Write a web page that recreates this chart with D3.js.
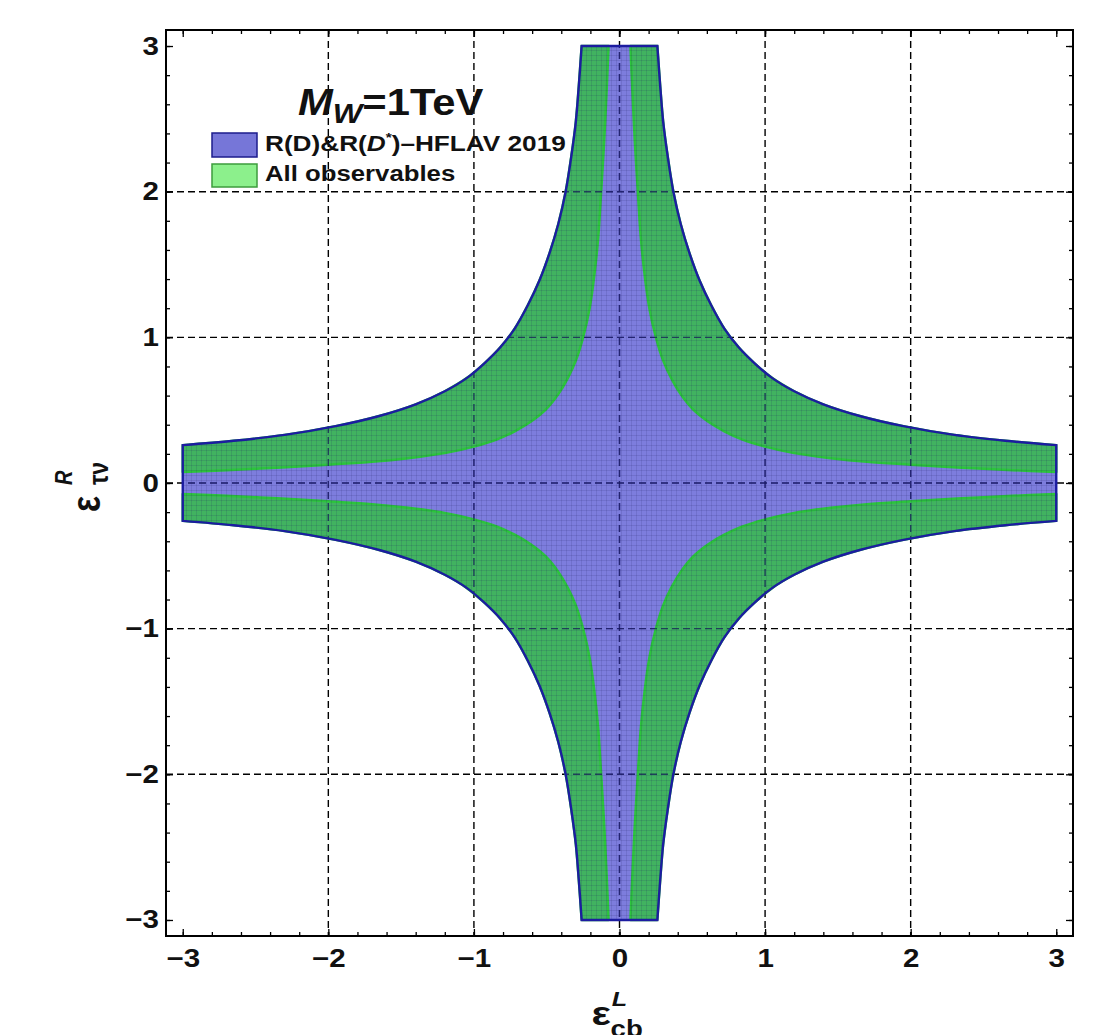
<!DOCTYPE html>
<html>
<head>
<meta charset="utf-8">
<script src="https://cdn.jsdelivr.net/npm/d3@7"></script>
<style>
  body { margin: 0; background: #fff; }
  text { font-family: "Liberation Sans", Arial, sans-serif; font-weight: bold; fill: #111; }
</style>
</head>
<body>
<div id="main-chart"></div>
<script>
// Allowed region in the (eps_cb^L, eps_tau_nu^R) plane, M_W = 1 TeV

// Tick and grid values
var majorTicks = [-3, -2, -1, 0, 1, 2, 3];
var minorTicks = [-3, -2.8, -2.6, -2.4, -2.2, -2, -1.8, -1.6, -1.4, -1.2, -1, -0.8, -0.6, -0.4, -0.2, 0,
  0.2, 0.4, 0.6, 0.8, 1, 1.2, 1.4, 1.6, 1.8, 2, 2.2, 2.4, 2.6, 2.8, 3];
var gridValues = [-2, -1, 0, 1, 2];

// Outer edge of the R(D)&R(D*) region, first quadrant
var outerX = [0.26, 0.28, 0.30, 0.33, 0.37, 0.42, 0.48, 0.55, 0.63, 0.72, 0.82, 0.93, 1.05, 1.2, 1.4, 1.65, 1.95, 2.3, 2.65, 3.0];
var outerY = [3.0, 2.72, 2.48, 2.25, 2.0, 1.78, 1.58, 1.39, 1.22, 1.06, 0.93, 0.82, 0.72, 0.63, 0.54, 0.46, 0.39, 0.33, 0.29, 0.26];

// Inner edge of the "All observables" band, first quadrant
var innerX = [0.075, 0.088, 0.105, 0.126, 0.145, 0.17, 0.205, 0.25, 0.30, 0.355, 0.42, 0.505, 0.61, 0.72, 0.84, 1.0, 1.2, 1.45, 1.7, 2.0, 2.35, 2.7, 3.0];
var innerY = [3.0, 2.7, 2.35, 2.0, 1.7, 1.45, 1.2, 1.0, 0.84, 0.72, 0.61, 0.505, 0.42, 0.355, 0.30, 0.25, 0.205, 0.17, 0.145, 0.126, 0.105, 0.088, 0.075];

var legendLabels = ["R(D)&R(D*)\u2013HFLAV 2019", "All observables"];

var W = 1116, H = 1035;
var margin = { top: 30, right: 43, bottom: 99, left: 166 },
  width = W - margin.left - margin.right,
  height = H - margin.top - margin.bottom;

var xScale = d3.scaleLinear().domain([-3.115, 3.115]).range([0, width]);
var yScale = d3.scaleLinear().domain([-3.11, 3.11]).range([height, 0]);

var root = d3.select("#main-chart").append("svg")
  .attr("width", W).attr("height", H);

var svg = root.append("g")
  .attr("transform", "translate(" + margin.left + "," + margin.top + ")");

// curve through the read points
var lineGenerator = d3.line()
  .x(function(d) { return xScale(d[0]); })
  .y(function(d) { return yScale(d[1]); })
  .curve(d3.curveCatmullRom.alpha(0.5));

function quadrant(xs, ys, sx, sy, reverse) {
  var pts = xs.map(function(v, i) { return [sx * v, sy * ys[i]]; });
  return reverse ? pts.reverse() : pts;
}
function join(parts) {
  return parts.map(function(p, i) { return i ? p.replace(/^M/, "L") : p; }).join("") + "Z";
}

// full outline of the blue region, clockwise from the top
var outerQ = [
  quadrant(outerX, outerY, 1, 1, false),
  quadrant(outerX, outerY, 1, -1, true),
  quadrant(outerX, outerY, -1, -1, false),
  quadrant(outerX, outerY, -1, 1, true)
];
var starPath = join(outerQ.map(lineGenerator));

// green bands, one per quadrant
var signs = [[1, 1], [1, -1], [-1, -1], [-1, 1]];
var bandPaths = signs.map(function(s) {
  return join([
    lineGenerator(quadrant(outerX, outerY, s[0], s[1], false)),
    lineGenerator(quadrant(innerX, innerY, s[0], s[1], true))
  ]);
});

function drawGrid(g, color, opacity) {
  g.selectAll("line.gx").data(gridValues).enter().append("line")
    .attr("x1", function(d) { return xScale(d); }).attr("x2", function(d) { return xScale(d); })
    .attr("y1", 0).attr("y2", height);
  g.selectAll("line.gy").data(gridValues).enter().append("line")
    .attr("y1", function(d) { return yScale(d); }).attr("y2", function(d) { return yScale(d); })
    .attr("x1", 0).attr("x2", width);
  g.selectAll("line").attr("stroke", color).attr("stroke-opacity", opacity)
    .attr("stroke-width", 1.4).attr("stroke-dasharray", "7,4");
}

// Grid lines (behind the regions)
drawGrid(svg.append("g"), "#000", 1);

// mesh texture
var defs = root.append("defs");
defs.append("pattern").attr("id", "mesh").attr("patternUnits", "userSpaceOnUse")
  .attr("width", 5).attr("height", 5)
  .append("path").attr("d", "M0 0.5H5M0.5 0V5")
  .attr("stroke", "#1a1a60").attr("stroke-opacity", 0.13).attr("stroke-width", 1);
defs.append("clipPath").attr("id", "star").append("path").attr("d", starPath);

// Blue region
svg.append("path").attr("d", starPath)
  .attr("fill", "#5c5cd4").attr("fill-opacity", 0.8);

// Green bands
svg.append("g").selectAll("path").data(bandPaths).enter().append("path")
  .attr("d", function(d) { return d; })
  .attr("fill", "#36bc4a").attr("fill-opacity", 0.85)
  .attr("stroke", "#2cc43c").attr("stroke-width", 2.5).attr("stroke-linejoin", "round");

svg.append("rect").attr("x", 0).attr("y", 0).attr("width", width).attr("height", height)
  .attr("fill", "url(#mesh)").attr("clip-path", "url(#star)");

// grid seen through the regions
drawGrid(svg.append("g").attr("clip-path", "url(#star)"), "#14145a", 0.7);

// outline of the blue region on top
svg.append("path").attr("d", starPath)
  .attr("fill", "none").attr("stroke", "#1c1ca0").attr("stroke-width", 2.4)
  .attr("stroke-linejoin", "miter");

// Frame ticks (inward on all four sides)
function ticks(axis, tx, ty, size, labels) {
  var g = svg.append("g").attr("transform", "translate(" + tx + "," + ty + ")")
    .call(axis.tickSize(-size).tickPadding(13).tickFormat(labels ? d3.format("d") : ""));
  g.select(".domain").remove();
  g.selectAll("line").attr("stroke", "#000").attr("stroke-width", 1.3);
  return g;
}
var bx = ticks(d3.axisBottom(xScale).tickValues(majorTicks), 0, height, 7, true);
ticks(d3.axisBottom(xScale).tickValues(minorTicks), 0, height, 4, false);
ticks(d3.axisTop(xScale).tickValues(majorTicks), 0, 0, 7, false);
ticks(d3.axisTop(xScale).tickValues(minorTicks), 0, 0, 4, false);
var ly = ticks(d3.axisLeft(yScale).tickValues(majorTicks), 0, 0, 7, true);
ticks(d3.axisLeft(yScale).tickValues(minorTicks), 0, 0, 4, false);
ticks(d3.axisRight(yScale).tickValues(majorTicks), width, 0, 7, false);
ticks(d3.axisRight(yScale).tickValues(minorTicks), width, 0, 4, false);

bx.selectAll("text").style("font-size", "25px").attr("transform", "scale(1.18,1)");
ly.selectAll("text").style("font-size", "25px").attr("x", -6).attr("transform", "scale(1.18,1)");

svg.append("rect").attr("width", width).attr("height", height)
  .attr("fill", "none").attr("stroke", "#000").attr("stroke-width", 2);

// Axis labels
var xl = root.append("g").attr("transform", "translate(601,1025) scale(1.2,1)");
xl.append("text").attr("x", -8).style("font-size", "34px").text("\u03b5");
xl.append("text").attr("x", 9).attr("y", -19).style("font-size", "21px").style("font-style", "italic").text("L");
xl.append("text").attr("x", 8).attr("y", 12).style("font-size", "23px").text("cb");

var yl = root.append("g").attr("transform", "translate(100,492) scale(1.2,1) rotate(-90)");
yl.append("text").attr("x", -20).style("font-size", "34px").text("\u03b5");
yl.append("text").attr("x", 7).attr("y", -23).style("font-size", "20px").style("font-style", "italic").text("R");
yl.append("text").attr("x", 7).attr("y", 7).style("font-size", "23px").text("\u03c4\u03bd");

// Legend
var title = root.append("text").attr("transform", "translate(298,115) scale(1.16,1)");
title.append("tspan").style("font-style", "italic").style("font-size", "36px").text("M");
title.append("tspan").style("font-style", "italic").style("font-size", "27px").attr("dy", 8).text("W");
title.append("tspan").style("font-size", "36px").attr("dy", -8).text("=1TeV");

root.append("rect").attr("x", 212).attr("y", 133).attr("width", 45).attr("height", 24)
  .attr("fill", "#7676d8").attr("stroke", "#1c1c8c").attr("stroke-width", 1.5);
root.append("rect").attr("x", 212).attr("y", 164).attr("width", 45).attr("height", 23)
  .attr("fill", "#8cf08c").attr("stroke", "#3c9c3c").attr("stroke-width", 1.5);

var l1 = root.append("text").attr("transform", "translate(265,151) scale(1.19,1)").style("font-size", "22px");
var parts1 = legendLabels[0].split("D*");
l1.append("tspan").text(parts1[0]);
l1.append("tspan").style("font-style", "italic").text("D");
l1.append("tspan").style("font-size", "13px").attr("dy", -9).text("*");
l1.append("tspan").attr("dy", 9).text(parts1[1]);

root.append("text").attr("transform", "translate(265,181) scale(1.17,1)").style("font-size", "22px")
  .text(legendLabels[1]);
</script>
</body>
</html>
